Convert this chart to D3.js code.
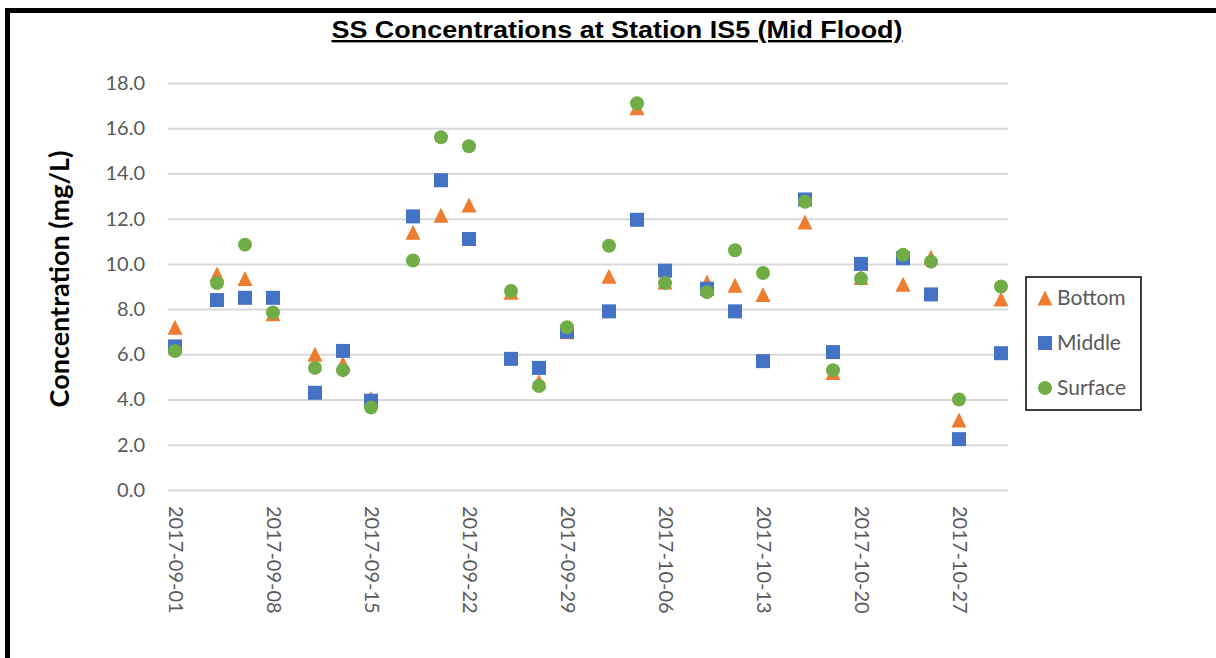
<!DOCTYPE html>
<html>
<head>
<meta charset="utf-8">
<script src="https://cdn.jsdelivr.net/npm/d3@7"></script>
<style>
  body { margin: 0; background: #fff; }
  svg { display: block; }
</style>
</head>
<body>
<div id="chart"></div>
<script>
// sampling dates and the three depths
const DATES = ["2017-09-01", "2017-09-04", "2017-09-06", "2017-09-08", "2017-09-11", "2017-09-13",
  "2017-09-15", "2017-09-18", "2017-09-20", "2017-09-22", "2017-09-25", "2017-09-27", "2017-09-29",
  "2017-10-02", "2017-10-04", "2017-10-06", "2017-10-09", "2017-10-11", "2017-10-13", "2017-10-16",
  "2017-10-18", "2017-10-20", "2017-10-23", "2017-10-25", "2017-10-27", "2017-10-30"];
const BOTTOM = [7.2, 9.55, 9.35, 7.8, 6.0, 5.6, 4.05, 11.4, 12.15, 12.6, 8.75, 4.8, 7.0,
  9.45, 16.9, 9.2, 9.2, 9.05, 8.65, 11.85, 5.2, 9.4, 9.1, 10.3, 3.1, 8.45];
const MIDDLE = [6.35, 8.4, 8.5, 8.5, 4.3, 6.15, 3.95, 12.1, 13.7, 11.1, 5.8, 5.4, 7.0,
  7.9, 11.95, 9.7, 8.9, 7.9, 5.7, 12.85, 6.1, 10.0, 10.25, 8.65, 2.25, 6.05];
const SURFACE = [6.15, 9.15, 10.85, 7.85, 5.4, 5.3, 3.65, 10.15, 15.6, 15.2, 8.8, 4.6, 7.2,
  10.8, 17.1, 9.15, 8.75, 10.6, 9.6, 12.75, 5.3, 9.35, 10.4, 10.1, 4.0, 9.0];

const SERIES_NAMES = ["Bottom", "Middle", "Surface"];
const SERIES_COLORS = ["#ED7D31", "#4472C4", "#70AD47"];
const Y_TICKS = [0, 2, 4, 6, 8, 10, 12, 14, 16, 18];
const X_TICKS = ["2017-09-01", "2017-09-08", "2017-09-15", "2017-09-22", "2017-09-29",
  "2017-10-06", "2017-10-13", "2017-10-20", "2017-10-27"];
const X_DOMAIN = ["2017-08-31T12:00", "2017-10-30T12:00"];

const WIDTH = 1216;
const HEIGHT = 658;
const PLOT = {left: 168, right: 1008, top: 83, bottom: 490};
const TICK_FONT = "Lato, 'Noto Sans', sans-serif";

const parseDay = d3.timeParse("%Y-%m-%d");
const parseTime = d3.timeParse("%Y-%m-%dT%H:%M");

const svg = d3.select("#chart").append("svg")
  .attr("width", WIDTH)
  .attr("height", HEIGHT);

const x = d3.scaleTime()
  .domain(X_DOMAIN.map(parseTime))
  .range([PLOT.left, PLOT.right]);

const y = d3.scaleLinear()
  .domain([0, 18])
  .range([PLOT.bottom, PLOT.top]);

// frame (only top and left edges are visible in the picture)
svg.append("rect").attr("x", 5).attr("y", 8).attr("width", WIDTH).attr("height", 5).attr("fill", "#000");
svg.append("rect").attr("x", 5).attr("y", 8).attr("width", 5).attr("height", HEIGHT).attr("fill", "#000");

// title
svg.append("text")
  .attr("x", 617)
  .attr("y", 38)
  .attr("text-anchor", "middle")
  .attr("font-family", "'Liberation Sans', Arial, sans-serif")
  .attr("font-weight", "bold")
  .attr("font-size", 24)
  .attr("textLength", 571)
  .attr("lengthAdjust", "spacingAndGlyphs")
  .style("text-decoration", "underline")
  .text("SS Concentrations at Station IS5 (Mid Flood)");

// y axis with gridlines
const yAxis = svg.append("g")
  .attr("transform", `translate(${PLOT.left},0)`)
  .call(d3.axisLeft(y)
    .tickValues(Y_TICKS)
    .tickSize(-(PLOT.right - PLOT.left))
    .tickPadding(23)
    .tickFormat(d3.format(".1f")));
yAxis.select(".domain").remove();
yAxis.selectAll(".tick line").attr("stroke", "#D9D9D9").attr("stroke-width", 2);
yAxis.selectAll(".tick text")
  .attr("fill", "#595959")
  .attr("font-family", TICK_FONT)
  .attr("font-size", 20);

// x axis, labels turned to read downwards
const xAxis = svg.append("g")
  .attr("transform", `translate(0,${PLOT.bottom})`)
  .call(d3.axisBottom(x)
    .tickValues(X_TICKS.map(parseDay))
    .tickSize(0)
    .tickFormat(d3.timeFormat("%Y-%m-%d")));
xAxis.select(".domain").remove();
xAxis.selectAll(".tick text")
  .attr("fill", "#595959")
  .attr("font-family", TICK_FONT)
  .attr("font-size", 20)
  .attr("text-anchor", "start")
  .attr("transform", "translate(0,16) rotate(90)")
  .attr("x", 0)
  .attr("y", 0)
  .attr("dy", "0.35em");

// y axis title
svg.append("text")
  .attr("transform", "translate(69,279) rotate(-90)")
  .attr("text-anchor", "middle")
  .attr("font-family", TICK_FONT)
  .attr("font-weight", "bold")
  .attr("font-size", 27)
  .attr("fill", "#000")
  .text("Concentration (mg/L)");

// excel style triangle: as tall as it is wide, centred on its box
const excelTriangle = {
  draw(context, size) {
    const h = Math.sqrt(size) / 2;
    context.moveTo(0, -h);
    context.lineTo(h, h);
    context.lineTo(-h, h);
    context.closePath();
  }
};
const SYMBOLS = [
  d3.symbol().type(excelTriangle).size(15 * 15),
  d3.symbol().type(d3.symbolSquare).size(14 * 14),
  d3.symbol().type(d3.symbolCircle).size(Math.PI * 7 * 7)
];

const SERIES = [BOTTOM, MIDDLE, SURFACE];
SERIES.forEach((values, i) => {
  const points = DATES.map((d, j) => ({date: parseDay(d), value: values[j]}));
  svg.append("g")
    .selectAll("path")
    .data(points)
    .enter()
    .append("path")
    .attr("d", SYMBOLS[i])
    .attr("fill", SERIES_COLORS[i])
    .attr("transform", d => `translate(${x(d.date)},${y(d.value)})`);
});

// legend
const LEGEND = svg.append("g");
LEGEND.append("rect")
  .attr("x", 1026)
  .attr("y", 277)
  .attr("width", 115)
  .attr("height", 133)
  .attr("fill", "#fff")
  .attr("stroke", "#000")
  .attr("stroke-width", 1.5);
SERIES_NAMES.forEach((name, i) => {
  const cy = 298 + i * 45;
  LEGEND.append("path")
    .attr("d", SYMBOLS[i])
    .attr("fill", SERIES_COLORS[i])
    .attr("transform", `translate(1045,${cy})`);
  LEGEND.append("text")
    .attr("x", 1057)
    .attr("y", cy)
    .attr("dy", "0.35em")
    .attr("fill", "#595959")
    .attr("font-family", TICK_FONT)
    .attr("font-size", 21)
    .text(name);
});
</script>
</body>
</html>
